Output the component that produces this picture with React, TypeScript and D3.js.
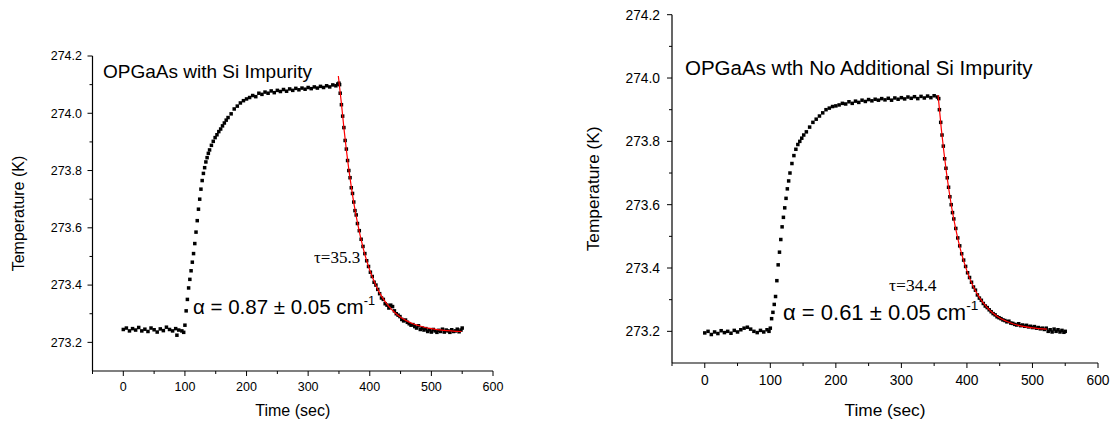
import React from 'react';
import * as d3 from 'd3';

const xTicks = [0, 100, 200, 300, 400, 500, 600];
const xMinorTicks = [-50, 50, 150, 250, 350, 450, 550];
const yTicks = [273.2, 273.4, 273.6, 273.8, 274.0, 274.2];
const yMinorTicks = [273.3, 273.5, 273.7, 273.9, 274.1];
const xDomain: [number, number] = [-50, 600];
const yDomain: [number, number] = [273.1, 274.2];

const leftTitle = 'OPGaAs with Si Impurity';
const rightTitle = 'OPGaAs wth No Additional Si Impurity';
const leftAlpha = 'α = 0.87 ± 0.05 cm';
const rightAlpha = 'α = 0.61 ± 0.05 cm';
const leftTau = 'τ=35.3';
const rightTau = 'τ=34.4';
const xLabel = 'Time (sec)';
const yLabel = 'Temperature (K)';

const leftData: [number, number][] = [
  [0, 273.245], [5, 273.25], [10, 273.24], [15, 273.248], [20, 273.243], [25, 273.252], [30, 273.24],
  [35, 273.246], [40, 273.238], [45, 273.25], [50, 273.244], [55, 273.236], [60, 273.247], [65, 273.241],
  [70, 273.253], [75, 273.245], [80, 273.24], [85, 273.248], [87, 273.225], [90, 273.243], [95, 273.24],
  [98, 273.235],
  [100, 273.26], [102, 273.31], [104, 273.35], [106, 273.39], [108, 273.42], [110, 273.45], [112, 273.48],
  [114, 273.51], [116, 273.545], [118, 273.585], [120, 273.625], [122, 273.665], [124, 273.7], [126, 273.735],
  [128, 273.765], [130, 273.79], [132, 273.81], [134, 273.83], [136, 273.845], [138, 273.86], [140, 273.872],
  [143, 273.888], [146, 273.902], [149, 273.915], [152, 273.925], [155, 273.936], [158, 273.945], [161, 273.956],
  [164, 273.966], [167, 273.976], [170, 273.985], [175, 273.998], [180, 274.015], [185, 274.025], [190, 274.036],
  [195, 274.044], [200, 274.05],
  [205, 274.055], [210, 274.062], [215, 274.058], [220, 274.07], [225, 274.066], [230, 274.074], [235, 274.07],
  [240, 274.078], [245, 274.072], [250, 274.08], [255, 274.076], [260, 274.083], [265, 274.077], [270, 274.085],
  [275, 274.08], [280, 274.087], [285, 274.082], [290, 274.088], [295, 274.084], [300, 274.09], [305, 274.086],
  [310, 274.092], [315, 274.088], [320, 274.094], [325, 274.09], [330, 274.096], [335, 274.092], [340, 274.099],
  [345, 274.096], [348, 274.102], [350, 274.105],
  [351, 274.1], [352, 274.07], [354, 274.03], [356, 273.99], [358, 273.95], [360, 273.905], [362, 273.875],
  [364, 273.835], [366, 273.8], [368, 273.775], [370, 273.74], [372, 273.72], [374, 273.69], [376, 273.66],
  [378, 273.645], [380, 273.615], [383, 273.59], [386, 273.56], [389, 273.535], [392, 273.51], [395, 273.485],
  [398, 273.465], [401, 273.445], [404, 273.43], [407, 273.41], [410, 273.4], [413, 273.385], [416, 273.37],
  [419, 273.355], [422, 273.35], [425, 273.335], [428, 273.33], [431, 273.32], [434, 273.33], [437, 273.325],
  [440, 273.31], [443, 273.3], [446, 273.295], [449, 273.29], [452, 273.28], [455, 273.275], [458, 273.278],
  [461, 273.27], [464, 273.265], [467, 273.26], [470, 273.262], [473, 273.255], [476, 273.25], [479, 273.258],
  [482, 273.245], [485, 273.25], [488, 273.243], [491, 273.248], [494, 273.238], [497, 273.244], [500, 273.236],
  [503, 273.245], [506, 273.24], [509, 273.235], [512, 273.242], [515, 273.238], [518, 273.246], [521, 273.236],
  [524, 273.243], [527, 273.24], [530, 273.235], [533, 273.244], [536, 273.238], [539, 273.24], [542, 273.246],
  [545, 273.237], [548, 273.243], [550, 273.25],
];

const leftFit: [number, number][] = [
  [349, 274.13], [354, 274.034], [358, 273.949], [362, 273.872], [366, 273.804], [370, 273.743], [375, 273.676],
  [380, 273.618], [390, 273.523], [400, 273.452], [410, 273.399], [420, 273.358], [430, 273.328], [440, 273.305],
  [450, 273.288], [460, 273.275], [470, 273.265], [480, 273.258], [490, 273.252], [500, 273.248], [520, 273.242],
  [549, 273.238],
];

const rightData: [number, number][] = [
  [0, 273.195], [5, 273.2], [10, 273.19], [15, 273.198], [20, 273.193], [25, 273.202], [30, 273.196],
  [35, 273.2], [40, 273.194], [45, 273.203], [50, 273.198], [55, 273.205], [60, 273.21], [65, 273.213],
  [70, 273.207], [75, 273.2], [80, 273.196], [85, 273.203], [90, 273.198], [95, 273.205], [98, 273.2],
  [100, 273.21], [102, 273.24], [104, 273.26], [106, 273.285], [108, 273.31], [110, 273.36], [112, 273.41],
  [114, 273.45], [116, 273.49], [118, 273.53], [120, 273.56], [122, 273.59], [124, 273.62], [126, 273.65],
  [128, 273.675], [130, 273.7], [133, 273.73], [136, 273.755], [139, 273.775], [142, 273.79], [145, 273.8],
  [148, 273.81], [151, 273.82], [155, 273.83], [160, 273.845], [165, 273.86], [170, 273.87], [175, 273.88],
  [180, 273.89], [185, 273.9], [190, 273.905], [195, 273.91], [200, 273.912],
  [205, 273.915], [210, 273.92], [215, 273.918], [220, 273.925], [225, 273.92], [230, 273.927], [235, 273.923],
  [240, 273.93], [245, 273.926], [250, 273.932], [255, 273.928], [260, 273.933], [265, 273.93], [270, 273.935],
  [275, 273.931], [280, 273.936], [285, 273.93], [290, 273.937], [295, 273.933], [300, 273.938], [305, 273.934],
  [310, 273.94], [315, 273.936], [320, 273.941], [325, 273.935], [330, 273.942], [335, 273.937], [340, 273.943],
  [345, 273.938], [350, 273.944], [355, 273.94], [357, 273.935],
  [358, 273.9], [360, 273.86], [362, 273.82], [364, 273.785], [366, 273.745], [368, 273.715], [370, 273.685],
  [372, 273.655], [374, 273.625], [376, 273.6], [378, 273.575], [380, 273.555], [383, 273.525], [386, 273.495],
  [389, 273.47], [392, 273.445], [395, 273.425], [398, 273.405], [401, 273.385], [404, 273.37], [407, 273.355],
  [410, 273.34], [413, 273.33], [416, 273.315], [419, 273.305], [422, 273.298], [425, 273.288], [428, 273.28],
  [431, 273.275], [434, 273.268], [437, 273.262], [440, 273.256], [443, 273.252], [446, 273.246], [449, 273.243],
  [452, 273.24], [455, 273.236], [458, 273.234], [461, 273.23], [464, 273.232], [467, 273.226], [470, 273.225],
  [473, 273.222], [476, 273.22], [479, 273.224], [482, 273.218], [485, 273.22], [488, 273.216], [491, 273.219],
  [494, 273.214], [497, 273.216], [500, 273.212], [503, 273.215], [506, 273.21], [509, 273.212], [512, 273.208],
  [515, 273.21], [518, 273.206], [521, 273.21], [524, 273.2], [527, 273.205], [530, 273.198], [533, 273.207],
  [536, 273.2], [539, 273.205], [542, 273.198], [545, 273.203], [548, 273.197], [550, 273.2],
];

const rightFit: [number, number][] = [
  [356, 273.946], [361, 273.838], [365, 273.764], [369, 273.698], [373, 273.64], [377, 273.588], [382, 273.533],
  [387, 273.485], [392, 273.444], [400, 273.391], [410, 273.34], [420, 273.304], [430, 273.277], [440, 273.257],
  [450, 273.242], [460, 273.232], [470, 273.224], [480, 273.218], [500, 273.211], [522, 273.207],
];

type PanelProps = {
  data: [number, number][];
  fit: [number, number][];
  x0: number; x1: number; yTop: number; yBottom: number;
  tickFont: number; labelFont: number;
  tickLabelEnd: number; xTickBaseline: number; yLabelX: number; xLabelBaseline: number;
  title: string; titleX: number; titleY: number; titleFont: number;
  alpha: string; alphaX: number; alphaY: number; alphaFont: number;
  tau: string; tauX: number; tauY: number; tauFont: number;
};

function Panel(p: PanelProps) {
  const x = d3.scaleLinear().domain(xDomain).range([p.x0, p.x1]);
  const y = d3.scaleLinear().domain(yDomain).range([p.yBottom, p.yTop]);
  const line = d3.line<[number, number]>().x(d => x(d[0])).y(d => y(d[1])).curve(d3.curveMonotoneX);
  const ff = 'Arial, "Liberation Sans", sans-serif';
  const fmt = d3.format('.1f');
  return (
    <g>
      <line x1={p.x0} x2={p.x0} y1={p.yTop} y2={p.yBottom} stroke="#000" strokeWidth={1.2} />
      <line x1={p.x0} x2={p.x1} y1={p.yBottom} y2={p.yBottom} stroke="#000" strokeWidth={1.2} />
      {yTicks.map(t => (
        <g key={'yt' + t}>
          <line x1={p.x0 - 5} x2={p.x0} y1={y(t)} y2={y(t)} stroke="#000" />
          <text x={p.tickLabelEnd} y={y(t)} dy="0.35em" textAnchor="end" fontSize={p.tickFont} fontFamily={ff}>{fmt(t)}</text>
        </g>
      ))}
      {yMinorTicks.map(t => (
        <line key={'ym' + t} x1={p.x0 - 3} x2={p.x0} y1={y(t)} y2={y(t)} stroke="#000" />
      ))}
      {xTicks.map(t => (
        <g key={'xt' + t}>
          <line x1={x(t)} x2={x(t)} y1={p.yBottom} y2={p.yBottom + 5} stroke="#000" />
          <text x={x(t)} y={p.xTickBaseline} textAnchor="middle" fontSize={p.tickFont} fontFamily={ff}>{t}</text>
        </g>
      ))}
      {xMinorTicks.map(t => (
        <line key={'xm' + t} x1={x(t)} x2={x(t)} y1={p.yBottom} y2={p.yBottom + 3} stroke="#000" />
      ))}
      <text x={(p.x0 + p.x1) / 2} y={p.xLabelBaseline} textAnchor="middle" fontSize={p.labelFont} fontFamily={ff}>{xLabel}</text>
      <text transform={`translate(${p.yLabelX},${(p.yTop + p.yBottom) / 2}) rotate(-90)`} dy="0.35em" textAnchor="middle" fontSize={p.labelFont} fontFamily={ff}>{yLabel}</text>
      {p.data.map((d, i) => (
        <rect key={i} x={x(d[0]) - 1.75} y={y(d[1]) - 1.75} width={3.5} height={3.5} fill="#000" />
      ))}
      <path d={line(p.fit) || ''} fill="none" stroke="#ff0000" strokeWidth={1.2} />
      <text x={p.titleX} y={p.titleY} fontSize={p.titleFont} fontFamily={ff}>{p.title}</text>
      <text x={p.alphaX} y={p.alphaY} fontSize={p.alphaFont} fontFamily={ff}>
        {p.alpha}
        <tspan dy={-p.alphaFont * 0.45} fontSize={p.alphaFont * 0.62}>-1</tspan>
      </text>
      <text x={p.tauX} y={p.tauY} fontSize={p.tauFont} fontFamily='"Times New Roman", "Liberation Serif", serif'>{p.tau}</text>
    </g>
  );
}

export default function App() {
  return (
    <svg width={1114} height={423} style={{ position: 'absolute', left: 0, top: 0, background: '#fff' }}>
      <rect width={1114} height={423} fill="#fff" />
      <Panel data={leftData} fit={leftFit} x0={92.5} x1={493} yTop={56} yBottom={371}
        tickFont={12.5} labelFont={16} tickLabelEnd={82} xTickBaseline={390.5} yLabelX={18} xLabelBaseline={416}
        title={leftTitle} titleX={103} titleY={78} titleFont={19}
        alpha={leftAlpha} alphaX={193} alphaY={314} alphaFont={20.5}
        tau={leftTau} tauX={314} tauY={263} tauFont={17} />
      <Panel data={rightData} fit={rightFit} x0={672} x1={1098} yTop={14.7} yBottom={363}
        tickFont={13.8} labelFont={17.3} tickLabelEnd={660} xTickBaseline={385} yLabelX={593} xLabelBaseline={416}
        title={rightTitle} titleX={685} titleY={75} titleFont={20.5}
        alpha={rightAlpha} alphaX={783} alphaY={320} alphaFont={22}
        tau={rightTau} tauX={889} tauY={291} tauFont={17.5} />
    </svg>
  );
}
